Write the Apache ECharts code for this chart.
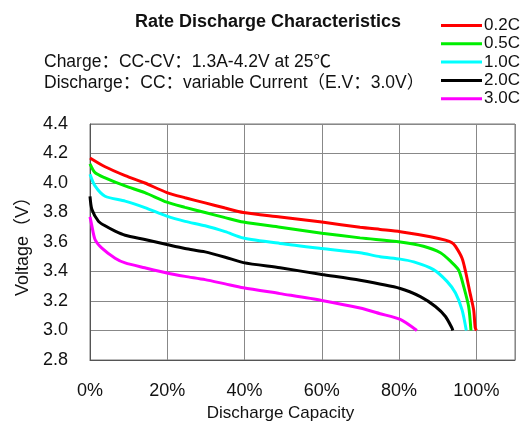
<!DOCTYPE html>
<html>
<head>
<meta charset="utf-8">
<script src="https://cdn.jsdelivr.net/npm/echarts@6/dist/echarts.min.js"></script>
<style>
  html, body { margin: 0; padding: 0; background: #fff; }
  #main { width: 527px; height: 421px; }
</style>
</head>
<body>
<div id="main"></div>
<script>
// discharge capacity (%) / voltage (V) pairs
const rate02C = [[0, 4.17], [3.9, 4.11], [9.1, 4.05], [14.2, 4.0], [19.9, 3.935], [24.6, 3.9], [29.8, 3.865],
  [35, 3.83], [39.7, 3.8], [49.2, 3.77], [60, 3.735], [69.9, 3.7], [75.1, 3.685], [80.3, 3.67], [88.1, 3.636],
  [92, 3.613], [93.7, 3.595], [94.6, 3.57], [96.3, 3.49], [97.2, 3.4], [98.4, 3.25], [99.3, 3.14], [99.7, 3.02],
  [100, 3.0]];
const rate05C = [[0, 4.13], [1.3, 4.07], [3.9, 4.035], [9.1, 3.98], [14.2, 3.935], [19.9, 3.87], [24.6, 3.835],
  [29.8, 3.8], [35, 3.765], [39.7, 3.735], [49.2, 3.7], [60, 3.66], [69.9, 3.628], [80.3, 3.6], [86.3, 3.571],
  [90.7, 3.527], [93.3, 3.47], [95.4, 3.41], [96.7, 3.3], [98, 3.163], [98.6, 3.0]];
const rate10C = [[0, 4.06], [1.3, 3.98], [3.9, 3.91], [9.1, 3.877], [14.2, 3.833], [19.9, 3.775], [24.6, 3.74],
  [29.8, 3.71], [35, 3.67], [39.7, 3.627], [49.2, 3.59], [60, 3.556], [69.9, 3.527], [75.1, 3.5], [80.3, 3.484],
  [83.8, 3.465], [88.9, 3.413], [92.4, 3.333], [94.6, 3.254], [96.3, 3.14], [97.4, 3.0]];
const rate20C = [[0, 3.91], [0.5, 3.82], [2.2, 3.74], [3.9, 3.71], [6.5, 3.674], [9.1, 3.646], [14.2, 3.617],
  [19.9, 3.583], [24.6, 3.556], [29.8, 3.533], [35, 3.497], [39.7, 3.46], [49.2, 3.425], [60, 3.38], [69.9, 3.34],
  [80.3, 3.285], [85.5, 3.23], [89.4, 3.163], [92, 3.095], [93.7, 3.016], [93.9, 3.0]];
const rate30C = [[0, 3.77], [0.4, 3.72], [1.3, 3.617], [3, 3.56], [6.5, 3.49], [9.1, 3.458], [14.2, 3.425],
  [19.9, 3.39], [24.6, 3.367], [29.8, 3.345], [35, 3.316], [39.7, 3.29], [49.2, 3.25], [60, 3.204], [69.9, 3.152],
  [75.1, 3.114], [80.3, 3.075], [84.6, 3.0]];

const seriesNames = ['0.2C', '0.5C', '1.0C', '2.0C', '3.0C'];
const seriesData = [rate02C, rate05C, rate10C, rate20C, rate30C];
const colors = ['#ff0000', '#00ee00', '#00ffff', '#000000', '#ff00ff'];

const font = '"Liberation Sans", Arial, "Noto Sans CJK SC", sans-serif';

const myChart = echarts.init(document.getElementById('main'));

const option = {
  backgroundColor: '#fff',
  animation: false,
  color: colors,
  title: [{
    text: 'Rate Discharge Characteristics',
    left: 263,
    top: 8,
    textAlign: 'center',
    textStyle: { fontFamily: font, fontSize: 18, fontWeight: 'bold', color: '#111' },
  }, {
    text: 'Charge：CC-CV：1.3A-4.2V at 25℃',
    left: 39,
    top: 48,
    textStyle: { fontFamily: font, fontSize: 17.5, fontWeight: 'normal', color: '#111' },
  }, {
    text: 'Discharge：CC：variable Current（E.V：3.0V）',
    left: 39,
    top: 69,
    textStyle: { fontFamily: font, fontSize: 17.5, fontWeight: 'normal', color: '#111' },
  }],
  legend: {
    orient: 'vertical',
    left: 436,
    top: 12,
    itemWidth: 41,
    itemHeight: 3,
    itemGap: 1.3,
    icon: 'rect',
    textStyle: { fontFamily: font, fontSize: 17, color: '#111', padding: [0, 0, 0, -3] },
    data: seriesNames,
  },
  grid: {
    left: 90,
    right: 12,
    top: 124,
    bottom: 61,
    outerBoundsMode: 'none',
    show: true,
    borderColor: '#777',
    borderWidth: 1,
  },
  xAxis: {
    type: 'value',
    min: 0,
    max: 110,
    interval: 20,
    name: 'Discharge Capacity',
    nameLocation: 'middle',
    nameGap: 45,
    nameTextStyle: { fontFamily: font, fontSize: 17, color: '#111', padding: [0, 44, 0, 0] },
    axisLine: { lineStyle: { color: '#555' } },
    axisTick: { show: false },
    axisLabel: {
      margin: 22,
      fontFamily: font,
      fontSize: 18,
      color: '#111',
      formatter: (v) => (v > 100 ? '' : `${v}%`),
    },
    splitLine: { show: true, lineStyle: { color: '#888', width: 1 } },
  },
  yAxis: {
    type: 'value',
    min: 2.8,
    max: 4.4,
    interval: 0.2,
    name: 'Voltage（V）',
    nameLocation: 'middle',
    nameGap: 57,
    nameTextStyle: { fontFamily: font, fontSize: 18, color: '#111' },
    axisLine: { show: true, lineStyle: { color: '#555' } },
    axisTick: { show: false },
    axisLabel: {
      margin: 22,
      fontFamily: font,
      fontSize: 18,
      color: '#111',
      formatter: (v) => v.toFixed(1),
    },
    splitLine: { show: true, lineStyle: { color: '#888', width: 1 } },
  },
  series: seriesNames.map((name, i) => ({
    type: 'line',
    name,
    data: seriesData[i],
    symbol: 'none',
    smooth: 0.25,
    lineStyle: { color: colors[i], width: 3 },
    itemStyle: { color: colors[i] },
  })),
};

myChart.setOption(option);
</script>
</body>
</html>
